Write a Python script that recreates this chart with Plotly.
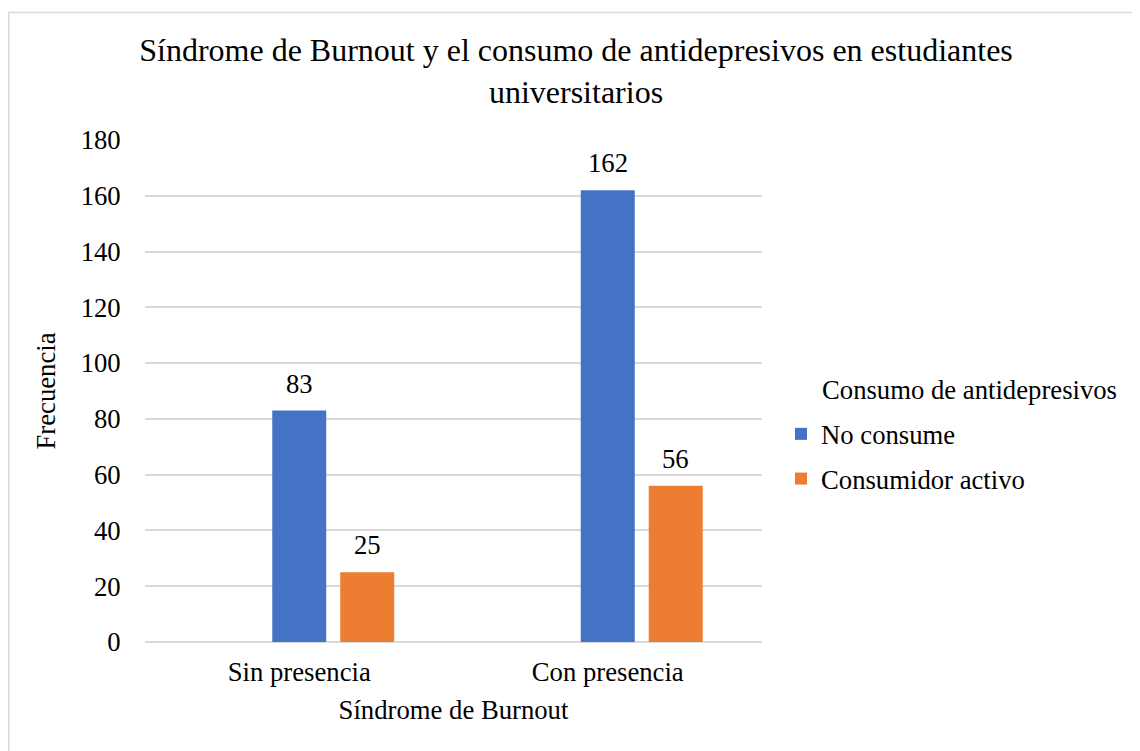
import plotly.graph_objects as go

categories = ["Sin presencia", "Con presencia"]
hidden_values = [0, 0]
no_consume = [83, 162]
consumidor_activo = [25, 56]
y_ticks = [0, 20, 40, 60, 80, 100, 120, 140, 160, 180]

W, H = 1140, 751
L, R, T, B = 137, 386, 132, 117
pw, ph = W - L - R, H - T - B

def px_x(p):
    return (p - L) / pw

def px_y(p):
    return (H - B - p) / ph

FONT = "Liberation Serif, Times New Roman, serif"
FS = 26.7

fig = go.Figure()
fig.add_trace(go.Bar(x=categories, y=hidden_values, name="", showlegend=False,
                     marker=dict(color="rgba(0,0,0,0)", line=dict(width=0)),
                     hoverinfo="skip"))
fig.add_trace(go.Bar(x=categories, y=no_consume, name="No consume",
                     marker=dict(color="#4472C4", line=dict(width=0)),
                     legendgroup="a"))
fig.add_trace(go.Bar(x=categories, y=consumidor_activo, name="Consumidor activo",
                     marker=dict(color="#ED7D31", line=dict(width=0)),
                     legendgroup="b"))

# data labels
for cat, v in zip(categories, no_consume):
    fig.add_annotation(x=cat, y=v, text=str(v), showarrow=False, xshift=0, yshift=27,
                       yanchor="middle", font=dict(family=FONT, size=FS, color="black"))
for cat, v in zip(categories, consumidor_activo):
    fig.add_annotation(x=cat, y=v, text=str(v), showarrow=False, xshift=68, yshift=27,
                       yanchor="middle", font=dict(family=FONT, size=FS, color="black"))

fig.update_layout(
    width=W, height=H,
    margin=dict(l=L, r=R, t=T, b=B),
    paper_bgcolor="white", plot_bgcolor="white",
    barmode="group", bargap=0.339, bargroupgap=0.206,
    font=dict(family=FONT, size=FS, color="black"),
    title=dict(text="Síndrome de Burnout y el consumo de antidepresivos en estudiantes<br>universitarios",
               x=568 / W, xanchor="center", y=1 - 53 / H, yanchor="middle",
               font=dict(family=FONT, size=32, color="black")),
    xaxis=dict(showgrid=False, showline=False, zeroline=False, ticks="outside",
               ticklen=6, tickcolor="rgba(0,0,0,0)",
               tickfont=dict(family=FONT, size=FS, color="black"),
               title=dict(text="Síndrome de Burnout", standoff=14,
                          font=dict(family=FONT, size=FS, color="black"))),
    yaxis=dict(range=[0, 180], tickvals=y_ticks, showgrid=True,
               gridcolor="#D9D9D9", gridwidth=1.5, zeroline=True,
               zerolinecolor="#D9D9D9", zerolinewidth=1.5, showline=False,
               ticks="outside", ticklen=18, tickcolor="rgba(0,0,0,0)",
               tickfont=dict(family=FONT, size=FS, color="black"),
               title=dict(text="Frecuencia", standoff=17,
                          font=dict(family=FONT, size=FS, color="black"))),
    legend=dict(x=px_x(773), y=px_y(402), xanchor="left", yanchor="top",
                traceorder="grouped", tracegroupgap=7,
                font=dict(family=FONT, size=FS, color="black"),
                bgcolor="rgba(0,0,0,0)"),
    showlegend=True,
)

fig.add_annotation(text="Consumo de antidepresivos", xref="paper", yref="paper",
                   x=px_x(812), y=px_y(382), xanchor="left", yanchor="middle",
                   showarrow=False, font=dict(family=FONT, size=FS, color="black"))

fig.add_shape(type="rect", xref="paper", yref="paper",
              x0=px_x(0.75), x1=px_x(1160), y0=px_y(4.5), y1=px_y(770),
              line=dict(color="#D9D9D9", width=1.5), fillcolor="rgba(0,0,0,0)", layer="below")

fig.write_html("out.html")
